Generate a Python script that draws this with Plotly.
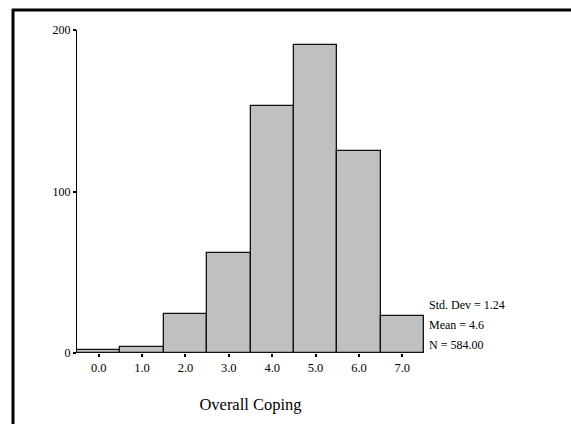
import plotly.graph_objects as go

bin_centers = [0, 1, 2, 3, 4, 5, 6, 7]
counts = [2, 4, 24, 62, 153, 191, 125, 23]
x_tick_labels = ["0.0", "1.0", "2.0", "3.0", "4.0", "5.0", "6.0", "7.0"]
y_ticks = [0, 100, 200]
stats_lines = ["Std. Dev = 1.24", "Mean = 4.6", "N = 584.00"]
x_title = "Overall Coping"

W, H = 571, 424
L, R, T, B = 77, 147, 30, 71
pw, ph = W - L - R, H - T - B

def px_to_paper_x(px):
    return (px - L) / pw

def px_to_paper_y(py):
    return 1 - (py - T) / ph

font_family = "Liberation Serif, Times New Roman, serif"

fig = go.Figure()
fig.add_trace(go.Bar(
    x=bin_centers, y=counts, width=1,
    marker=dict(color="#c0c0c0", line=dict(color="#111111", width=1.3)),
    hoverinfo="x+y",
))

shapes = [
    dict(type="line", xref="paper", yref="paper",
         x0=px_to_paper_x(13), x1=px_to_paper_x(13),
         y0=px_to_paper_y(9), y1=px_to_paper_y(430),
         line=dict(color="black", width=3), layer="below"),
    dict(type="line", xref="paper", yref="paper",
         x0=px_to_paper_x(12), x1=px_to_paper_x(580),
         y0=px_to_paper_y(10), y1=px_to_paper_y(10),
         line=dict(color="black", width=3), layer="below"),
]

annotations = []
for i, s in enumerate(stats_lines):
    annotations.append(dict(text=s, xref="paper", yref="paper",
                            x=px_to_paper_x(427), y=px_to_paper_y(305 + 20 * i),
                            xanchor="left", yanchor="middle", showarrow=False,
                            font=dict(family=font_family, size=12, color="black")))

fig.update_layout(
    width=W, height=H,
    margin=dict(l=L, r=R, t=T, b=B, pad=0),
    paper_bgcolor="white", plot_bgcolor="white",
    showlegend=False, bargap=0,
    shapes=shapes, annotations=annotations,
    font=dict(family=font_family, size=12, color="black"),
    xaxis=dict(range=[-0.5, 7.5], tickmode="array", tickvals=bin_centers,
               ticktext=x_tick_labels, ticks="outside", ticklen=3, tickwidth=2,
               tickcolor="black", showline=False, showgrid=False, zeroline=False,
               title=dict(text=x_title, font=dict(size=16.5, family=font_family), standoff=24),
               tickfont=dict(size=12.5, family=font_family)),
    yaxis=dict(range=[0, 200], tickmode="array", tickvals=y_ticks,
               ticks="outside", ticklen=3, tickwidth=2, tickcolor="black",
               showline=True, linecolor="black", linewidth=1.3,
               showgrid=False, zeroline=False,
               tickfont=dict(size=12, family=font_family)),
)

fig.write_html("out.html", config={"displayModeBar": False},
               post_script="document.body.style.margin='0';document.body.style.overflow='hidden';")
